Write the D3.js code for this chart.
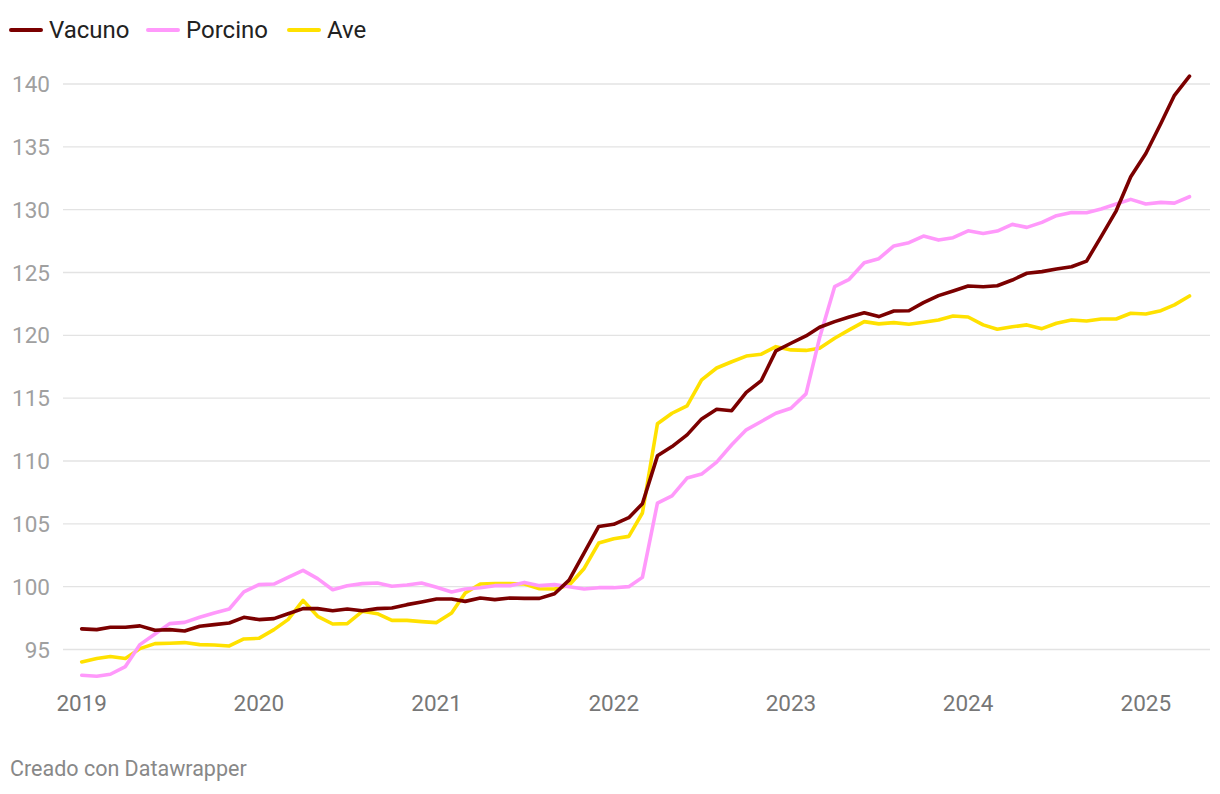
<!DOCTYPE html>
<html>
<head>
<meta charset="utf-8">
<script src="https://cdn.jsdelivr.net/npm/d3@7"></script>
<style>
  body { margin: 0; background: #fff; }
  svg { font-family: Roboto, "Noto Sans", sans-serif; }
</style>
</head>
<body>
<svg width="1220" height="794"></svg>
<script>
// monthly index values, Jan 2019 - Apr 2025
const yearTicks = ['2019', '2020', '2021', '2022', '2023', '2024', '2025'];
const yTicks = [95, 100, 105, 110, 115, 120, 125, 130, 135, 140];

const vacuno = [
  96.64, 96.58, 96.77, 96.77, 96.88, 96.53, 96.58, 96.47, 96.85, 96.98, 97.11, 97.56,
  97.38, 97.46, 97.85, 98.25, 98.25, 98.09, 98.22, 98.09, 98.25, 98.30, 98.57, 98.78,
  99.02, 99.02, 98.83, 99.10, 98.97, 99.10, 99.07, 99.07, 99.44, 100.52, 102.68, 104.79,
  104.96, 105.49, 106.60, 110.41, 111.15, 112.08, 113.35, 114.12, 114.00, 115.46, 116.40, 118.76,
  119.37, 119.95, 120.64, 121.09, 121.46, 121.80, 121.49, 121.94, 121.96, 122.60, 123.16, 123.53,
  123.93, 123.87, 123.95, 124.40, 124.94, 125.07, 125.28, 125.46, 125.91, 127.85, 129.91, 132.62,
  134.47, 136.86, 139.10, 140.62
];

const porcino = [
  92.95, 92.87, 93.03, 93.64, 95.39, 96.24, 97.06, 97.16, 97.56, 97.91, 98.22, 99.58,
  100.16, 100.21, 100.74, 101.30, 100.64, 99.76, 100.08, 100.24, 100.29, 100.03, 100.13, 100.29,
  99.95, 99.58, 99.81, 99.92, 100.08, 100.08, 100.34, 100.08, 100.16, 100.00, 99.81, 99.92,
  99.92, 100.00, 100.74, 106.65, 107.23, 108.64, 108.96, 109.91, 111.29, 112.48, 113.14, 113.80,
  114.20, 115.34, 119.80, 123.87, 124.46, 125.78, 126.10, 127.11, 127.37, 127.90, 127.58, 127.77,
  128.32, 128.11, 128.30, 128.83, 128.59, 128.99, 129.52, 129.78, 129.76, 130.05, 130.45, 130.82,
  130.45, 130.58, 130.52, 131.03
];

const ave = [
  94.01, 94.28, 94.44, 94.28, 95.07, 95.47, 95.50, 95.55, 95.39, 95.36, 95.28, 95.84,
  95.89, 96.58, 97.38, 98.91, 97.64, 97.03, 97.06, 98.04, 97.85, 97.32, 97.32, 97.22,
  97.14, 97.91, 99.50, 100.21, 100.24, 100.24, 100.21, 99.84, 99.81, 100.11, 101.45, 103.47,
  103.82, 104.00, 105.86, 112.96, 113.80, 114.39, 116.45, 117.40, 117.90, 118.35, 118.50, 119.10,
  118.84, 118.80, 118.97, 119.77, 120.43, 121.09, 120.91, 121.01, 120.88, 121.04, 121.22, 121.54,
  121.46, 120.83, 120.48, 120.68, 120.83, 120.53, 120.96, 121.22, 121.14, 121.30, 121.30, 121.76,
  121.70, 121.96, 122.42, 123.13
];

const seriesNames = ['Vacuno', 'Porcino', 'Ave'];
const seriesColors = ['#7b0000', '#ff99fb', '#ffe100'];
const seriesValues = [vacuno, porcino, ave];

const months = d3.timeMonth.range(new Date(2019, 0, 1), new Date(2025, 4, 1));

const svg = d3.select('svg');

const x = d3.scaleTime()
  .domain([months[0], months[months.length - 1]])
  .range([81.7, 1189.5]);

const y = d3.scaleLinear()
  .domain([95, 140])
  .range([649.5, 84]);

// grid + y labels
const grid = svg.append('g');
grid.selectAll('line')
  .data(yTicks)
  .enter().append('line')
  .attr('x1', 63)
  .attr('x2', 1210)
  .attr('y1', d => y(d))
  .attr('y2', d => y(d))
  .attr('stroke', '#e3e3e3')
  .attr('stroke-width', 1.3);

grid.selectAll('text')
  .data(yTicks)
  .enter().append('text')
  .attr('x', 50)
  .attr('y', d => y(d) + 8)
  .attr('text-anchor', 'end')
  .attr('font-size', 22.5)
  .attr('fill', '#a0a0a0')
  .text(d => d);

// x labels
svg.append('g').selectAll('text')
  .data(yearTicks)
  .enter().append('text')
  .attr('x', d => x(new Date(+d, 0, 1)))
  .attr('y', 711)
  .attr('text-anchor', 'middle')
  .attr('font-size', 22.5)
  .attr('fill', '#777')
  .text(d => d);

const line = d3.line()
  .x((d, i) => x(months[i]))
  .y(d => y(d));

// draw Ave first so Vacuno ends up on top
[2, 1, 0].forEach(k => {
  svg.append('path')
    .datum(seriesValues[k])
    .attr('fill', 'none')
    .attr('stroke', seriesColors[k])
    .attr('stroke-width', 3.6)
    .attr('stroke-linejoin', 'round')
    .attr('stroke-linecap', 'round')
    .attr('d', line);
});

// legend
const legendX = [11, 148, 289];
const legend = svg.append('g');
seriesNames.forEach((name, i) => {
  legend.append('line')
    .attr('x1', legendX[i])
    .attr('x2', legendX[i] + 30)
    .attr('y1', 30)
    .attr('y2', 30)
    .attr('stroke', seriesColors[i])
    .attr('stroke-width', 4)
    .attr('stroke-linecap', 'round');
  legend.append('text')
    .attr('x', legendX[i] + 38)
    .attr('y', 38)
    .attr('font-size', 24)
    .attr('fill', '#222')
    .text(name);
});

svg.append('text')
  .attr('x', 10)
  .attr('y', 776)
  .attr('font-size', 21.5)
  .attr('fill', '#888')
  .text('Creado con Datawrapper');
</script>
</body>
</html>
